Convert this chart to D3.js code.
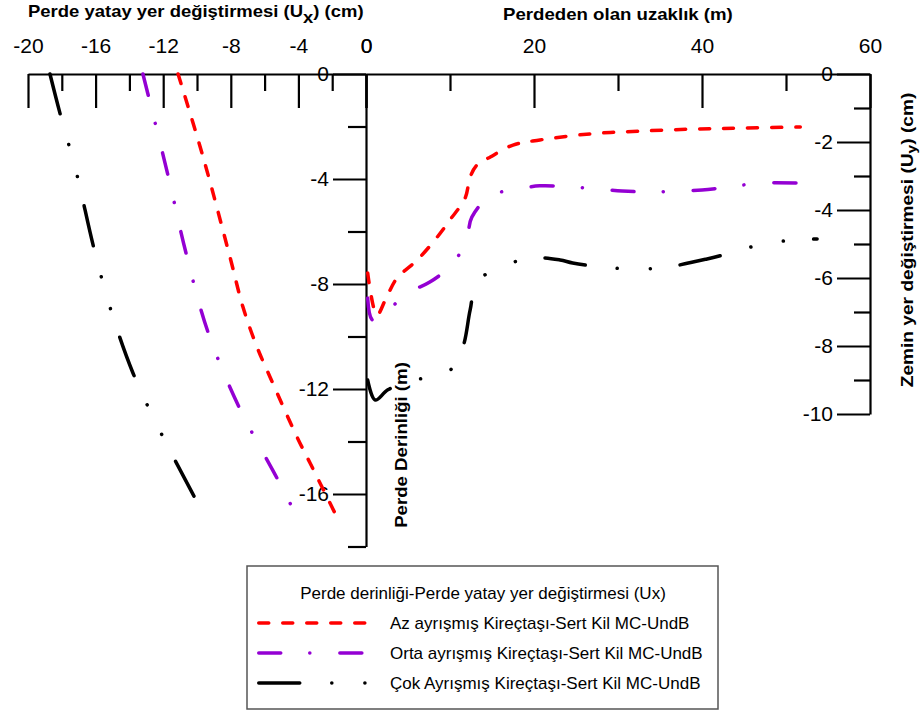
<!DOCTYPE html>
<html><head><meta charset="utf-8">
<script src="https://cdn.jsdelivr.net/npm/d3@7"></script>
<style>
body{margin:0;background:#fff}
svg text{font-family:"Liberation Sans",Arial,sans-serif}
</style></head>
<body><svg id="chart" width="921" height="713"></svg>
<script>
// ---- data ----
const seriesNames = ["Az ayrışmış Kireçtaşı-Sert Kil MC-UndB","Orta ayrışmış Kireçtaşı-Sert Kil MC-UndB","Çok Ayrışmış Kireçtaşı-Sert Kil MC-UndB"];
const legendTitle = "Perde derinliği-Perde yatay yer değiştirmesi (Ux)";
const uxTicks = [-20,-16,-12,-8,-4,0];
const uxMinor = [-18,-14,-10,-6,-2];
const distTicks = [0,20,40,60];
const distMinor = [10,30,50];
const depthTicks = [0,-4,-8,-12,-16];
const depthMinor = [-2,-6,-10,-14,-18];
const uyTicks = [0,-2,-4,-6,-8,-10];
const uyMinor = [-1,-3,-5,-7,-9];

// left panel: wall horizontal displacement Ux (cm) vs wall depth (m)
const depthAz = [0,-3.16,-6.97,-8.88,-10.40,-11.54,-13.83,-14.82,-16.88];
const uxAz    = [-11.12,-9.64,-8.05,-7.28,-6.45,-5.68,-4.08,-3.31,-1.72];
const depthOrta = [0,-3.85,-6.82,-9.83,-12.69,-15.39,-16.42];
const uxOrta    = [-13.2,-11.72,-10.65,-9.35,-7.51,-5.27,-4.44];
const depthCok = [0,-1.49,-3.85,-6.51,-8.88,-11.39,-13.6,-16.08];
const uxCok    = [-18.7,-18.11,-17.1,-16.15,-15.15,-13.79,-12.19,-10.18];

// right panel: ground settlement Uy (cm) vs distance from wall (m)
const distAz = [0.2,1.3,2.4,3.7,6.1,8.5,10.0,11.8,12.4,13.2,14.8,17.5,20.7,26.7,32.6,38.9,44.9,51.7];
const uyAz   = [-5.85,-7.09,-6.59,-6.0,-5.47,-4.79,-4.29,-3.65,-3.03,-2.68,-2.44,-2.09,-1.94,-1.76,-1.68,-1.62,-1.59,-1.56];
const distOrta = [0.2,0.8,2.6,5.2,7.6,10.4,12.0,12.6,14.8,18.1,20.7,24.3,27.6,30.5,33.8,37.1,40.0,43.3,46.9,53.1];
const uyOrta   = [-6.59,-7.24,-6.94,-6.41,-6.12,-5.56,-4.82,-4.21,-3.59,-3.38,-3.29,-3.32,-3.38,-3.44,-3.47,-3.44,-3.41,-3.32,-3.21,-3.22];
const distCok = [0.2,1.1,2.6,5.6,9.4,11.4,12.4,13.2,16.3,19.9,23.1,24.6,28.2,32.3,35.8,40.6,44.2,47.7,53.7];
const uyCok   = [-9.0,-9.59,-9.29,-9.0,-8.85,-8.12,-6.94,-6.12,-5.65,-5.41,-5.47,-5.56,-5.68,-5.74,-5.68,-5.44,-5.21,-4.97,-4.85];

// ---- styles ----
const colors = ["#ff0000","#9400d3","#000000"];
const dashes = ["10,14","22,29,0.1,30","41,32,0.1,33,0.1,30"];

const svg = d3.select("#chart");

const xUx = d3.scaleLinear().domain([-20,0]).range([28,366]);
const yDepth = d3.scaleLinear().domain([0,-18]).range([74,546.5]);
const xDist = d3.scaleLinear().domain([0,60]).range([366,870]);
const yUy = d3.scaleLinear().domain([0,-10]).range([74,414]);

const fmt = d => String(d);

function styleAxis(g, labels){
  g.attr("font-family",null).attr("font-size",null);
  g.selectAll("path.domain").attr("stroke","#000").attr("stroke-width",2.2);
  g.selectAll(".tick line").attr("stroke","#000").attr("stroke-width",2.2);
  g.selectAll(".tick text").attr("fill","#000").style("font-size","21px");
  if(!labels) g.selectAll(".tick text").remove();
}

// top-left Ux axis
svg.append("g").attr("transform","translate(0,74)")
  .call(d3.axisTop(xUx).tickValues(uxTicks).tickFormat(fmt).tickSizeInner(-34).tickSizeOuter(0).tickPadding(21))
  .call(g=>styleAxis(g,true));
svg.append("g").attr("transform","translate(0,74)")
  .call(d3.axisTop(xUx).tickValues(uxMinor).tickSizeInner(-17).tickSizeOuter(0))
  .call(g=>{styleAxis(g,false); g.select("path.domain").remove();});

// top-right distance axis
svg.append("g").attr("transform","translate(0,74)")
  .call(d3.axisTop(xDist).tickValues(distTicks).tickFormat(fmt).tickSizeInner(-34).tickSizeOuter(0).tickPadding(21))
  .call(g=>styleAxis(g,true));
svg.append("g").attr("transform","translate(0,74)")
  .call(d3.axisTop(xDist).tickValues(distMinor).tickSizeInner(-17).tickSizeOuter(0))
  .call(g=>{styleAxis(g,false); g.select("path.domain").remove();});

// centre depth axis
svg.append("g").attr("transform","translate(366,0)")
  .call(d3.axisLeft(yDepth).tickValues(depthTicks).tickFormat(fmt).tickSizeInner(33).tickSizeOuter(0).tickPadding(4))
  .call(g=>styleAxis(g,true));
svg.append("g").attr("transform","translate(366,0)")
  .call(d3.axisLeft(yDepth).tickValues(depthMinor).tickSizeInner(18).tickSizeOuter(0))
  .call(g=>{styleAxis(g,false); g.select("path.domain").remove();});

// right Uy axis
svg.append("g").attr("transform","translate(870,0)")
  .call(d3.axisLeft(yUy).tickValues(uyTicks).tickFormat(fmt).tickSizeInner(33).tickSizeOuter(0).tickPadding(4))
  .call(g=>styleAxis(g,true));
svg.append("g").attr("transform","translate(870,0)")
  .call(d3.axisLeft(yUy).tickValues(uyMinor).tickSizeInner(16).tickSizeOuter(0))
  .call(g=>{styleAxis(g,false); g.select("path.domain").remove();});

// ---- lines ----
const curve = d3.curveCatmullRom.alpha(0.5);
const leftLine = d3.line().x(d=>xUx(d[0])).y(d=>yDepth(d[1])).curve(curve);
const rightLine = d3.line().x(d=>xDist(d[0])).y(d=>yUy(d[1])).curve(curve);

const leftSets = [[uxAz,depthAz],[uxOrta,depthOrta],[uxCok,depthCok]];
const rightSets = [[distAz,uyAz],[distOrta,uyOrta],[distCok,uyCok]];

leftSets.forEach((s,i)=>{
  svg.append("path").datum(d3.zip(s[0],s[1])).attr("d",leftLine)
    .attr("fill","none").attr("stroke",colors[i]).attr("stroke-width",3.5)
    .attr("stroke-linecap","round").attr("stroke-dasharray",dashes[i]);
});
rightSets.forEach((s,i)=>{
  svg.append("path").datum(d3.zip(s[0],s[1])).attr("d",rightLine)
    .attr("fill","none").attr("stroke",colors[i]).attr("stroke-width",3.5)
    .attr("stroke-linecap","round").attr("stroke-dasharray",dashes[i]);
});

// ---- titles (stretched horizontally to match the reference's wide lettering) ----
function fit(sel, base, target){
  const w = sel.node().getComputedTextLength();
  sel.attr("transform", base + " scale(" + (target / w) + ",1)");
}

const t1 = svg.append("text").attr("x",0).attr("y",0)
  .style("font-size","16px").style("font-weight","bold");
t1.append("tspan").text("Perde yatay yer değiştirmesi (U");
t1.append("tspan").attr("dy",6).text("x");
t1.append("tspan").attr("dy",-6).text(") (cm)");
fit(t1, "translate(28,17)", 336);

const t3 = svg.append("text").attr("x",0).attr("y",0)
  .style("font-size","16px").style("font-weight","bold").text("Perdeden olan uzaklık (m)");
fit(t3, "translate(503,20)", 230);

const t4 = svg.append("text").attr("text-anchor","middle")
  .style("font-size","16px").style("font-weight","bold").text("Perde Derinliği (m)");
fit(t4, "translate(407,445) rotate(-90)", 166);

const t2 = svg.append("text").attr("text-anchor","middle")
  .style("font-size","16px").style("font-weight","bold");
t2.append("tspan").text("Zemin yer değiştirmesi (U");
t2.append("tspan").attr("dy",3).style("font-size","13px").text("y");
t2.append("tspan").attr("dy",-3).text(") (cm)");
fit(t2, "translate(913,240) rotate(-90)", 295);

// ---- legend ----
const lg = svg.append("g");
lg.append("rect").attr("x",247).attr("y",566).attr("width",471).attr("height",143)
  .attr("fill","none").attr("stroke","#555").attr("stroke-width",1.5);
lg.append("text").attr("x",483).attr("y",599).attr("text-anchor","middle")
  .style("font-size","17px").text(legendTitle);
const rowY = [623,653,683];
seriesNames.forEach((n,i)=>{
  lg.append("line").attr("x1",258.75).attr("x2",371).attr("y1",rowY[i]).attr("y2",rowY[i])
    .attr("stroke",colors[i]).attr("stroke-width",3.5).attr("stroke-linecap","round")
    .attr("stroke-dasharray",dashes[i]);
  lg.append("text").attr("x",390).attr("y",rowY[i]+6).style("font-size","17px").text(n);
});
</script></body></html>
